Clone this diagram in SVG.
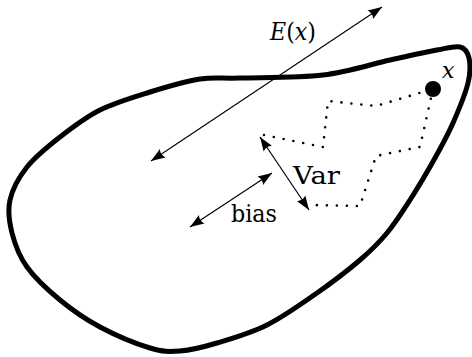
<svg xmlns="http://www.w3.org/2000/svg" width="472" height="357" viewBox="0 0 472 357">
  <style>
    .blob { fill: none; stroke: #000; stroke-width: 5; stroke-linejoin: round; }
    .arrow { fill: none; stroke: #000; stroke-width: 1.2; marker-start: url(#head); marker-end: url(#head); }
    .walk { fill: none; stroke: #000; stroke-width: 2.6; stroke-linecap: round; stroke-dasharray: 0 10; }
    .t { font-family: "DejaVu Serif", "Liberation Serif", serif; fill: #000; }
  </style>
  <defs>
    <marker id="head" markerUnits="userSpaceOnUse" markerWidth="17" markerHeight="12" viewBox="-1 -6 17 12" refX="14" refY="0" orient="auto-start-reverse">
      <path d="M0,-5 Q3,0 0,5 L14,0 Z" fill="#000"/>
    </marker>
  </defs>
  <rect width="472" height="357" fill="#fff"/>
  <g id="region">
    <path class="blob" d="M 240 78 C 260.5 77.33 298 78 323 75 C 348 72 371 64.17 390 60 C 409 55.83 425.33 52.17 437 50 C 448.67 47.83 454.67 45.67 460 47 C 465.33 48.33 467.67 52 469 58 C 470.33 64 470.67 72.17 468 83 C 465.33 93.83 458.5 110.5 453 123 C 447.5 135.5 442.17 145.17 435 158 C 427.83 170.83 418 187.5 410 200 C 402 212.5 395.33 223 387 233 C 378.67 243 371.67 250 360 260 C 348.33 270 332.5 282.17 317 293 C 301.5 303.83 283.67 316.67 267 325 C 250.33 333.33 231.5 338.67 217 343 C 202.5 347.33 191.17 350.17 180 351 C 168.83 351.83 163.33 352 150 348 C 136.67 344 115 335 100 327 C 85 319 72.17 310 60 300 C 47.83 290 35 278.17 27 267 C 19 255.83 14.83 244.17 12 233 C 9.17 221.83 7.5 211 10 200 C 12.5 189 18.67 177.5 27 167 C 35.33 156.5 47.83 146.5 60 137 C 72.17 127.5 85 117.5 100 110 C 115 102.5 133.33 97.17 150 92 C 166.67 86.83 185 81.33 200 79 C 215 76.67 219.5 78.67 240 78 Z"/>
  </g>
  <g id="walk">
    <polyline class="walk" points="264,135 323,147 328,101 376,106 433,89"/>
    <polyline class="walk" points="433,89 420,147 376,156 360,206 310,205"/>
  </g>
  <g id="point-x">
    <circle cx="433" cy="89" r="8" fill="#000"/>
    <text class="t" x="442" y="78" font-style="italic" font-size="22">x</text>
  </g>
  <g id="connectors">
    <line class="arrow" x1="151" y1="161" x2="382" y2="7"/>
    <line class="arrow" x1="260" y1="137" x2="309" y2="210"/>
    <line class="arrow" x1="190" y1="227" x2="272" y2="173"/>
  </g>
  <g id="labels">
    <text class="t" x="270" y="40" font-size="24" textLength="46" lengthAdjust="spacingAndGlyphs"><tspan font-style="italic">E</tspan>(<tspan font-style="italic">x</tspan>)</text>
    <text class="t" x="293" y="184" font-size="25" textLength="47" lengthAdjust="spacingAndGlyphs">Var</text>
    <text class="t" x="231" y="222" font-size="25" textLength="46" lengthAdjust="spacingAndGlyphs">bias</text>
  </g>
</svg>
